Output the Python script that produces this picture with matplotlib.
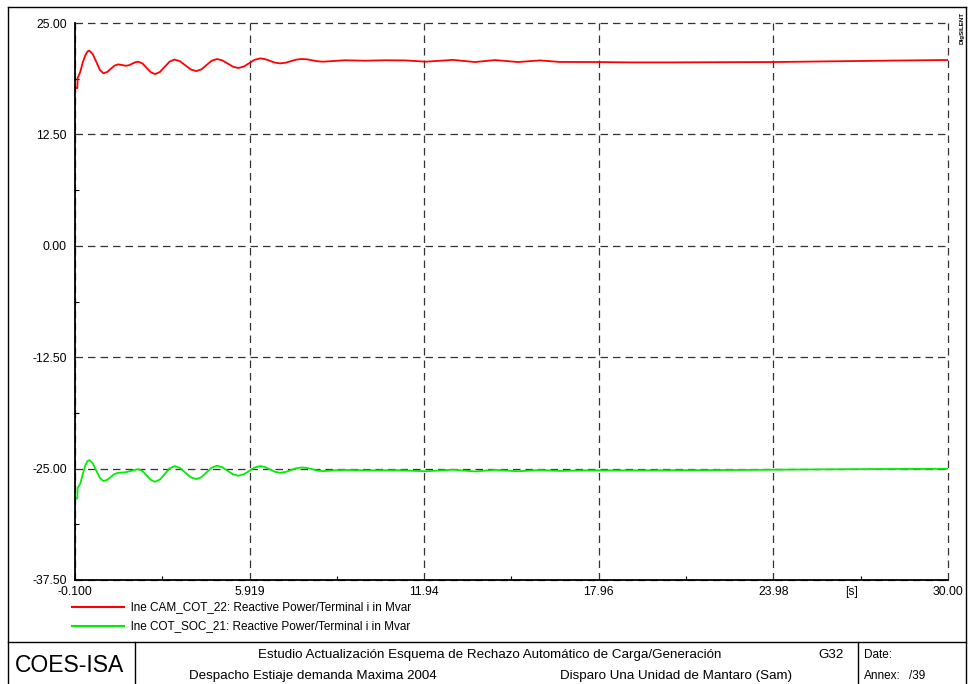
import matplotlib
matplotlib.use("Agg")
import matplotlib.pyplot as plt
from matplotlib.lines import Line2D
from matplotlib.ticker import MultipleLocator, FixedLocator

plt.rcParams['font.family'] = ['Liberation Sans', 'DejaVu Sans']

# ---- data (time in s, reactive power in Mvar) ----
t_red = [-0.1, -0.02, -0.01, 0.08, 0.17, 0.26, 0.33, 0.39,
         0.51, 0.635, 0.76, 0.88, 1.01, 1.135, 1.26, 1.39, 1.525, 1.66,
         1.765, 1.87, 1.975, 2.08, 2.225, 2.37, 2.515, 2.66,
         2.83, 2.995, 3.16, 3.33, 3.52, 3.705, 3.89, 4.08,
         4.26, 4.435, 4.61, 4.79, 4.975, 5.16, 5.345, 5.53,
         5.72, 5.905, 6.09, 6.28, 6.45, 6.625, 6.8, 6.97,
         7.16, 7.345, 7.53, 7.72, 7.905, 8.09, 8.275, 8.46,
         8.83, 9.2, 9.9, 10.6, 11.3, 12.0, 12.93, 13.69, 14.38, 15.17,
         15.93, 16.62, 17.9, 19.0, 20.5, 22.0, 23.98, 26.0, 28.0, 30.0]
q_red = [17.7, 17.7, 18.8, 19.5, 20.6, 21.4, 21.8, 21.9,
         21.53, 20.63, 19.72, 19.35, 19.5, 19.86, 20.21, 20.36, 20.28, 20.2,
         20.27, 20.43, 20.59, 20.66, 20.46, 19.97, 19.47, 19.27,
         19.51, 20.09, 20.66, 20.9, 20.71, 20.25, 19.79, 19.6,
         19.8, 20.28, 20.76, 20.96, 20.81, 20.46, 20.1, 19.95,
         20.11, 20.49, 20.87, 21.03, 20.95, 20.75, 20.55, 20.47,
         20.54, 20.72, 20.89, 20.96, 20.92, 20.81, 20.7, 20.66,
         20.74, 20.82, 20.77, 20.82, 20.8, 20.66, 20.86, 20.62, 20.84, 20.62,
         20.8, 20.63, 20.62, 20.58, 20.58, 20.6, 20.62, 20.7, 20.78, 20.85]

t_green = [-0.1, -0.02, -0.01, 0.08, 0.17, 0.26, 0.33, 0.39,
           0.51, 0.635, 0.76, 0.88, 1.01, 1.135, 1.26, 1.39, 1.525, 1.66,
           1.87, 2.08, 2.225, 2.37, 2.515, 2.66,
           2.83, 2.995, 3.16, 3.33, 3.52, 3.705, 3.89, 4.08,
           4.26, 4.435, 4.61, 4.79, 4.975, 5.16, 5.345, 5.53,
           5.72, 5.905, 6.09, 6.28, 6.45, 6.625, 6.8, 6.97,
           7.16, 7.345, 7.53, 7.72, 7.905, 8.09, 8.275, 8.46,
           8.83, 9.2, 10.0, 11.0, 12.0, 12.93, 13.69, 14.38, 15.17,
           15.93, 16.62, 17.5, 19.0, 21.0, 23.0, 25.0, 27.0, 30.0]
q_green = [-28.35, -28.35, -27.2, -26.7, -25.6, -24.6, -24.15, -24.05,
           -24.39, -25.23, -26.06, -26.4, -26.26, -25.94, -25.61, -25.47, -25.44, -25.4,
           -25.23, -25.06, -25.27, -25.77, -26.27, -26.48,
           -26.22, -25.6, -24.98, -24.72, -24.93, -25.45, -25.97, -26.18,
           -25.96, -25.43, -24.9, -24.68, -24.84, -25.24, -25.64, -25.8,
           -25.64, -25.26, -24.88, -24.72, -24.83, -25.1, -25.36, -25.47,
           -25.38, -25.17, -24.96, -24.87, -24.93, -25.08, -25.22, -25.28,
           -25.2, -25.15, -25.2, -25.18, -25.3, -25.12, -25.32, -25.14, -25.3,
           -25.16, -25.26, -25.2, -25.2, -25.18, -25.15, -25.1, -25.06, -25.02]

x_ticks = [-0.1, 5.919, 11.94, 17.96, 23.98, 30.0]
x_labels = ["-0.100", "5.919", "11.94", "17.96", "23.98", "30.00"]
y_ticks = [-37.5, -25.0, -12.5, 0.0, 12.5, 25.0]

legend_labels = ["lne CAM_COT_22: Reactive Power/Terminal i in Mvar",
                 "lne COT_SOC_21: Reactive Power/Terminal i in Mvar"]
colors = ["#ff0000", "#00ee00"]

W, H = 969, 684
fig = plt.figure(figsize=(W / 100, H / 100), dpi=100)


def fx(px):
    return px / W


def fy(py):
    return 1 - py / H


def hline(x0, x1, y, lw=1.0):
    fig.add_artist(Line2D([fx(x0), fx(x1)], [fy(y), fy(y)], color="black", lw=lw))


def vline(x, y0, y1, lw=1.0):
    fig.add_artist(Line2D([fx(x), fx(x)], [fy(y0), fy(y1)], color="black", lw=lw))


# outer frame and title block
hline(8, 966, 7)
vline(8, 7, 684)
vline(966, 7, 684)
hline(8, 966, 642)
vline(135, 642, 684)
vline(858, 642, 684)

ax = fig.add_axes([fx(75), fy(580), (948 - 75) / W, (580 - 23) / H])
ax.plot(t_red, q_red, color=colors[0], lw=1.3)
ax.plot(t_green, q_green, color=colors[1], lw=1.3)

ax.set_xlim(-0.1, 30.0)
ax.set_ylim(-37.5, 25.0)
ax.spines["top"].set_visible(False)
ax.spines["right"].set_visible(False)
ax.spines["left"].set_linewidth(1.3)
ax.spines["bottom"].set_linewidth(1.3)

ax.xaxis.set_major_locator(FixedLocator(x_ticks))
ax.set_xticklabels(x_labels)
ax.xaxis.set_minor_locator(FixedLocator([(a + b) / 2 for a, b in zip(x_ticks[:-1], x_ticks[1:])]))
ax.yaxis.set_major_locator(FixedLocator(y_ticks))
ax.set_yticklabels(["%.2f" % v for v in y_ticks])
ax.yaxis.set_minor_locator(MultipleLocator(6.25))
ax.tick_params(which="major", length=0, labelsize=8.8, pad=6)
ax.tick_params(axis="x", which="major", pad=4)
ax.tick_params(which="minor", direction="in", length=3, width=0.8)
ax.grid(True, which="major", color="#333333", ls=(0, (6, 4)), lw=0.9)
for gl in ax.get_xgridlines() + ax.get_ygridlines():
    gl.set_clip_on(False)
ax.set_axisbelow(True)
ax.patch.set_alpha(0)

# [s] unit label
fig.text(fx(852), fy(592), "[s]", ha="center", va="center", fontsize=8.8)

# legend
for i, (lab, c) in enumerate(zip(legend_labels, colors)):
    yy = 607 + 19 * i
    fig.add_artist(Line2D([fx(72), fx(124)], [fy(yy), fy(yy)], color=c, lw=1.5))
    fig.text(fx(131), fy(yy), lab, ha="left", va="center", fontsize=8.5)

# title block texts
fig.text(fx(70), fy(665), "COES-ISA", ha="center", va="center", fontsize=16.5)
fig.text(fx(490), fy(655), "Estudio Actualización Esquema de Rechazo Automático de Carga/Generación",
         ha="center", va="center", fontsize=9.6)
fig.text(fx(831), fy(655), "G32", ha="center", va="center", fontsize=9.6)
fig.text(fx(313), fy(676), "Despacho Estiaje demanda Maxima 2004", ha="center", va="center", fontsize=9.6)
fig.text(fx(676), fy(676), "Disparo Una Unidad de Mantaro (Sam)", ha="center", va="center", fontsize=9.6)
fig.text(fx(864), fy(655), "Date:", ha="left", va="center", fontsize=8.5)
fig.text(fx(864), fy(676), "Annex:", ha="left", va="center", fontsize=8.5)
fig.text(fx(909), fy(676), "/39", ha="left", va="center", fontsize=8.5)

fig.text(fx(962), fy(28), "DIgSILENT", rotation=90, ha="center", va="center",
         fontsize=4.5, fontweight="bold")

plt.savefig("out.png", dpi=100)
